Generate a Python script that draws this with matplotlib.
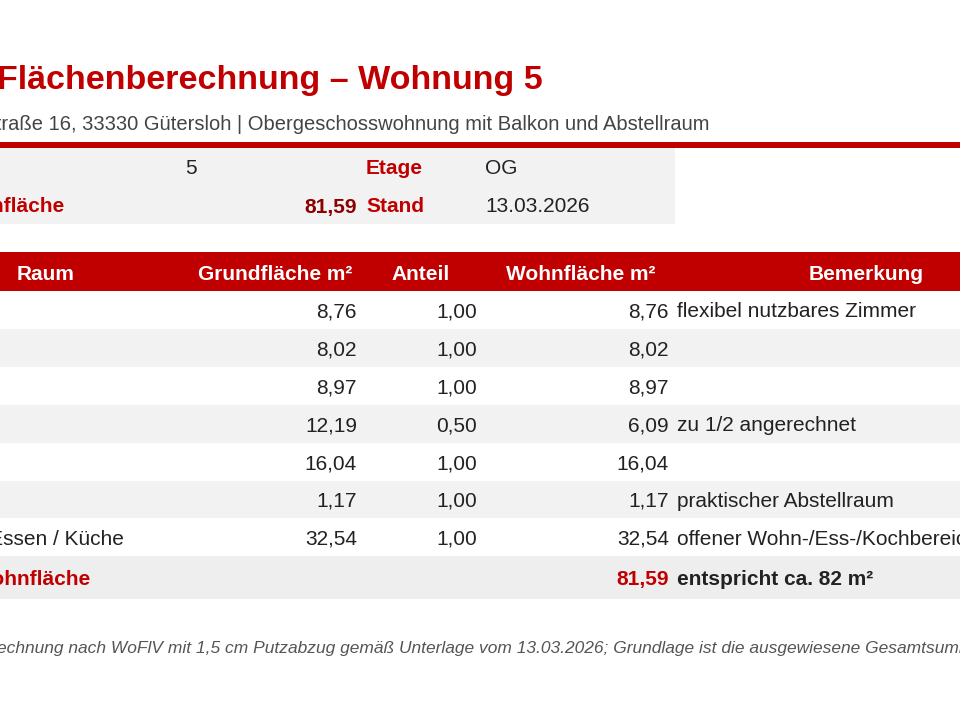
import matplotlib.pyplot as plt
from matplotlib.patches import Rectangle

plt.rcParams["font.family"] = ["Liberation Sans", "DejaVu Sans"]

RED = "#c00000"
GRAY = "#f2f2f2"
INK = "#222222"
FS = 15

title = "Flächenberechnung – Wohnung 5"
subtitle = "Musterstraße 16, 33330 Gütersloh | Obergeschosswohnung mit Balkon und Abstellraum"

info_labels = ["", "Wohnfläche"]
info_values = ["5", "81,59"]
info_labels2 = ["Etage", "Stand"]
info_values2 = ["OG", "13.03.2026"]

headers = ["Raum", "Grundfläche m²", "Anteil", "Wohnfläche m²", "Bemerkung"]
rooms = ["", "", "", "", "", "", "Wohnen / Essen / Küche"]
grund = [8.76, 8.02, 8.97, 12.19, 16.04, 1.17, 32.54]
anteil = [1.00, 1.00, 1.00, 0.50, 1.00, 1.00, 1.00]
wohn = [8.76, 8.02, 8.97, 6.09, 16.04, 1.17, 32.54]
notes = ["flexibel nutzbares Zimmer", "", "", "zu 1/2 angerechnet", "",
         "praktischer Abstellraum", "offener Wohn-/Ess-/Kochbereich"]
total_label = "Wohnfläche"
total_value = 81.59
total_note = "entspricht ca. 82 m²"
footnote = ("Berechnung nach WoFlV mit 1,5 cm Putzabzug gemäß Unterlage vom 13.03.2026; "
            "Grundlage ist die ausgewiesene Gesamtsumme.")


def de(v):
    return f"{v:.2f}".replace(".", ",")


fig = plt.figure(figsize=(9.6, 7.2), dpi=100)
ax = fig.add_axes([0, 0, 1, 1])
ax.set_xlim(0, 960)
ax.set_ylim(720, 0)
ax.set_axis_off()

ax.text(543, 81, title, fontsize=24.5, fontweight="bold", color=RED, ha="right", va="center")
ax.text(709, 124, subtitle, fontsize=14.5, color="#444444", ha="right", va="center")
ax.add_patch(Rectangle((0, 142), 960, 6, facecolor=RED, edgecolor="none"))

# info box
ax.add_patch(Rectangle((0, 148), 675, 76, facecolor=GRAY, edgecolor="none"))
for i, y in enumerate([169, 207]):
    ax.text(65, y, info_labels[i], fontsize=FS, fontweight="bold", color=RED, ha="right", va="center")
    if i == 0:
        ax.text(185, y, info_values[i], fontsize=FS, color=INK, ha="left", va="center")
    else:
        ax.text(357, y, info_values[i], fontsize=FS, fontweight="bold", color="#8b0000", ha="right", va="center")
    ax.text(366, y, info_labels2[i], fontsize=FS, fontweight="bold", color=RED, ha="left", va="center")
    ax.text(485, y, info_values2[i], fontsize=FS, color=INK, ha="left", va="center")

# header
ax.add_patch(Rectangle((0, 252), 960, 39, facecolor=RED, edgecolor="none"))
hy = 274
ax.text(17, hy, headers[0], fontsize=FS, fontweight="bold", color="white", ha="left", va="center")
ax.text(352, hy, headers[1], fontsize=FS, fontweight="bold", color="white", ha="right", va="center")
ax.text(421, hy, headers[2], fontsize=FS, fontweight="bold", color="white", ha="center", va="center")
ax.text(656, hy, headers[3], fontsize=FS, fontweight="bold", color="white", ha="right", va="center")
ax.text(866, hy, headers[4], fontsize=FS, fontweight="bold", color="white", ha="center", va="center")

row_h = 37.9
top = 291
for i in range(len(grund)):
    y0 = top + i * row_h
    if i % 2 == 1:
        ax.add_patch(Rectangle((0, y0), 960, row_h, facecolor=GRAY, edgecolor="none"))
    yc = y0 + row_h / 2 + 2
    ax.text(124, yc, rooms[i], fontsize=FS, color=INK, ha="right", va="center")
    ax.text(357, yc, de(grund[i]), fontsize=FS, color=INK, ha="right", va="center")
    ax.text(477, yc, de(anteil[i]), fontsize=FS, color=INK, ha="right", va="center")
    ax.text(669, yc, de(wohn[i]), fontsize=FS, color=INK, ha="right", va="center")
    ax.text(677, yc, notes[i], fontsize=FS, color=INK, ha="left", va="center")

y0 = top + len(grund) * row_h
ax.add_patch(Rectangle((0, y0), 960, 43, facecolor="#eeeeee", edgecolor="none"))
yc = y0 + 23
ax.text(91, yc, total_label, fontsize=FS, fontweight="bold", color=RED, ha="right", va="center")
ax.text(669, yc, de(total_value), fontsize=FS, fontweight="bold", color=RED, ha="right", va="center")
ax.text(677, yc, total_note, fontsize=FS, fontweight="bold", color=INK, ha="left", va="center")

ax.text(-30, 649, footnote, fontsize=12.5, style="italic", color="#555555", ha="left", va="center")

fig.savefig("out.png", dpi=100, facecolor="white")
